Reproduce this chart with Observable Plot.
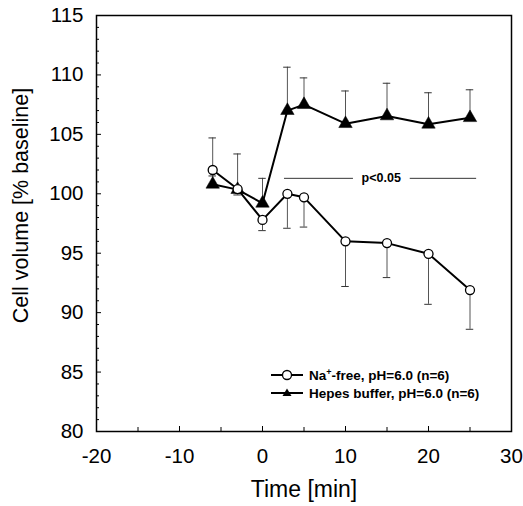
<!DOCTYPE html>
<html><head><meta charset="utf-8">
<script src="https://cdn.jsdelivr.net/npm/d3@7"></script>
<script src="https://cdn.jsdelivr.net/npm/@observablehq/plot@0.6"></script>
<style>
body{margin:0;background:#fff;}
#chart{position:relative;width:523px;height:506px;}
#legend{position:absolute;left:271px;top:366px;font:bold 13.5px "Liberation Sans",Arial,sans-serif;color:#000;}
#legend .row{display:flex;align-items:center;height:18px;}
#legend svg{margin-right:6px;}
#legend sup{font-size:9px;vertical-align:5px;line-height:0;}
</style></head><body><div id="chart"></div>
<script>
// ---- data ----
const time = [-6, -3, 0, 3, 5, 10, 15, 20, 25];
const naFree = [102.0, 100.4, 97.8, 100.0, 99.7, 96.0, 95.85, 94.95, 91.9];
const naFreeLow = [101.5, 99.9, 96.9, 97.1, 97.2, 92.2, 92.95, 90.7, 88.6];
const hepes = [100.8, 100.35, 99.2, 107.0, 107.5, 105.9, 106.55, 105.85, 106.4];
const hepesHigh = [104.7, 103.35, 101.3, 110.65, 109.75, 108.65, 109.3, 108.5, 108.75];
const seriesNames = ["Na+-free, pH=6.0 (n=6)", "Hepes buffer, pH=6.0 (n=6)"];
const xTicks = [-20, -10, 0, 10, 20, 30];
const xMinorTicks = [-15, -5, 5, 15, 25];
const yTicks = [80, 85, 90, 95, 100, 105, 110, 115];
const yMinorTicks = [81,82,83,84,86,87,88,89,91,92,93,94,96,97,98,99,101,102,103,104,106,107,108,109,111,112,113,114];
const sigSegments = [[2.65, 10.96], [17.8, 25.8]];
const sigY = 101.3;
const sigLabel = "p<0.05";
const sigLabelX = 14.3;
const xTitle = "Time [min]";
const yTitle = "Cell volume [% baseline]";

const FONT = '"Liberation Sans", Arial, Helvetica, sans-serif';
const na = time.map((t, i) => ({t, v: naFree[i], e: naFreeLow[i]}));
const hp = time.map((t, i) => ({t, v: hepes[i], e: hepesHigh[i]}));
const sig = sigSegments.map(([a, b]) => ({a, b, y: sigY}));
const capHalf = 0.45;
const fmt = d => String(d);

const chart = Plot.plot({
  width: 523, height: 506,
  marginLeft: 96, marginRight: 12, marginTop: 15, marginBottom: 75,
  style: {fontFamily: FONT, color: "#000", background: "#fff"},
  x: {domain: [-20, 30], label: null},
  y: {domain: [80, 115], label: null},
  marks: [
    // axes labels
    Plot.axisX({ticks: xTicks, tickSize: 0, tickPadding: 17, fontSize: 20.5, tickFormat: fmt, label: null}),
    Plot.axisY({ticks: yTicks, tickSize: 0, tickPadding: 13, fontSize: 20.5, tickFormat: fmt, label: null}),
    // inward ticks
    Plot.axisX({ticks: xTicks, tickSize: -5, tickFormat: () => "", label: null}),
    Plot.axisX({ticks: xMinorTicks, tickSize: -4, tickFormat: () => "", label: null}),
    Plot.axisY({ticks: yTicks, tickSize: -5, tickFormat: () => "", label: null}),
    Plot.axisY({ticks: yMinorTicks, tickSize: -3, tickFormat: () => "", label: null}),
    // titles
    Plot.text([xTitle], {frameAnchor: "bottom", dy: 58, lineAnchor: "middle", fontSize: 23, text: d => d}),
    Plot.text([yTitle], {frameAnchor: "left", dx: -75, dy: -18, rotate: -90, textAnchor: "middle", lineAnchor: "middle", fontSize: 21.5, text: d => d}),
    // significance annotation
    Plot.ruleY(sig, {y: "y", x1: "a", x2: "b", stroke: "#000", strokeWidth: 0.8}),
    Plot.text([sigLabel], {x: sigLabelX, y: sigY, text: d => d, fontSize: 12.5, fontWeight: "bold"}),
    // error bars
    Plot.ruleX(hp, {x: "t", y1: "v", y2: "e", stroke: "#555", strokeWidth: 1}),
    Plot.ruleY(hp, {y: "e", x1: d => d.t - capHalf, x2: d => d.t + capHalf, stroke: "#333", strokeWidth: 1}),
    Plot.ruleX(na, {x: "t", y1: "v", y2: "e", stroke: "#555", strokeWidth: 1}),
    Plot.ruleY(na, {y: "e", x1: d => d.t - capHalf, x2: d => d.t + capHalf, stroke: "#333", strokeWidth: 1}),
    // lines
    Plot.line(hp, {x: "t", y: "v", stroke: "#000", strokeWidth: 2}),
    Plot.line(na, {x: "t", y: "v", stroke: "#000", strokeWidth: 2}),
    Plot.dot(hp, {x: "t", y: "v", symbol: "triangle", r: 5, fill: "#000", stroke: "#000", strokeWidth: 0.5}),
    Plot.dot(na, {x: "t", y: "v", symbol: "circle", r: 4.5, fill: "#fff", stroke: "#000", strokeWidth: 1.3}),
    Plot.frame({stroke: "#000", strokeWidth: 1.5})
  ]
});
document.getElementById("chart").appendChild(chart);

// legend
const legend = document.createElement("div");
legend.id = "legend";
const markers = ["circle", "triangle"];
seriesNames.forEach((name, i) => {
  const row = document.createElement("div");
  row.className = "row";
  const marker = markers[i] === "circle"
    ? '<circle cx="16" cy="8" r="4.5" fill="#fff" stroke="#000" stroke-width="1.3"/>'
    : '<path d="M16,3.5 L20.5,11 L11.5,11 Z" fill="#000"/>';
  const label = name.replace("Na+", "Na<sup>+</sup>");
  row.innerHTML = '<svg width="32" height="16"><line x1="0" x2="32" y1="8" y2="8" stroke="#000" stroke-width="2"/>' + marker + '</svg><span>' + label + '</span>';
  legend.appendChild(row);
});
document.getElementById("chart").appendChild(legend);
</script>
</body></html>
